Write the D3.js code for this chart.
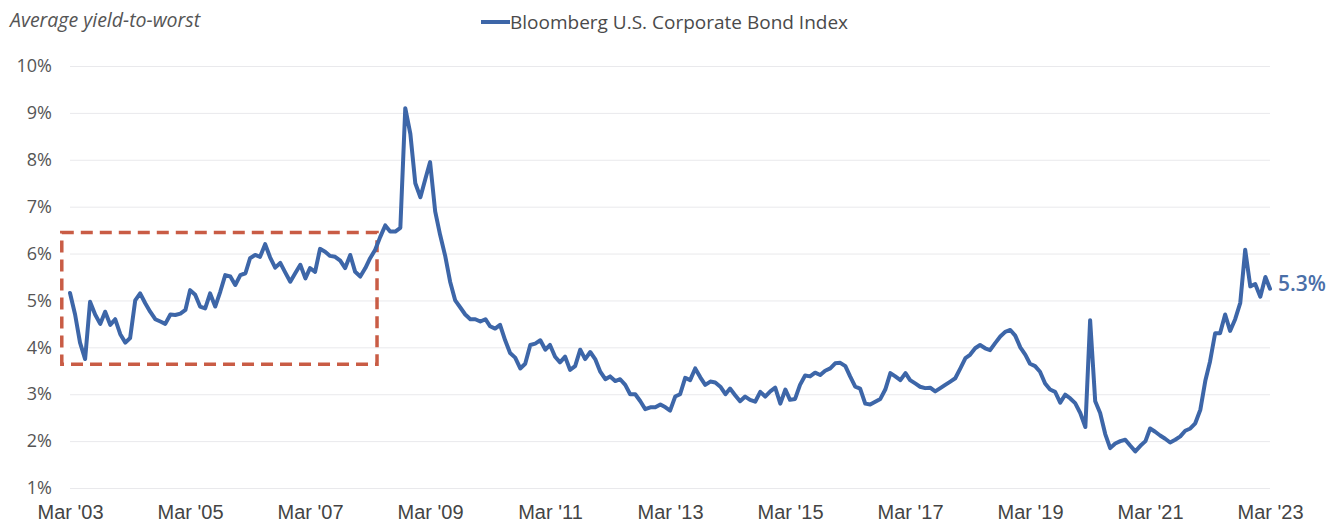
<!DOCTYPE html>
<html>
<head>
<meta charset="utf-8">
<script src="https://cdn.jsdelivr.net/npm/d3@7"></script>
<style>
  body { margin: 0; background: #fff; }
  svg { display: block; }
</style>
</head>
<body>
<svg id="chart" width="1335" height="523"></svg>
<script>
// monthly average yield-to-worst, Mar 2003 -> Mar 2023
const startMonth = "2003-03";
const yieldValues = [
  5.16, 4.7, 4.1, 3.75, 4.97, 4.7, 4.5, 4.76, 4.48, 4.6, 4.28, 4.1,
  4.2, 5.0, 5.15, 4.94, 4.76, 4.6, 4.55, 4.5, 4.7, 4.69, 4.72, 4.8,
  5.22, 5.12, 4.87, 4.83, 5.15, 4.87, 5.19, 5.54, 5.51, 5.33, 5.54, 5.58,
  5.9, 5.97, 5.93, 6.2, 5.92, 5.7, 5.8, 5.6, 5.4, 5.58, 5.76, 5.47,
  5.69, 5.61, 6.1, 6.04, 5.95, 5.93, 5.85, 5.69, 5.97, 5.61, 5.51, 5.69,
  5.9, 6.08, 6.35, 6.6, 6.47, 6.47, 6.55, 9.1, 8.55, 7.5, 7.2, 7.6,
  7.95, 6.9, 6.4, 5.95, 5.4, 5.0, 4.85, 4.7, 4.6, 4.6, 4.55, 4.6,
  4.45, 4.4, 4.48, 4.15, 3.88, 3.78, 3.55, 3.65, 4.05, 4.08, 4.15, 3.95,
  4.05, 3.8, 3.68, 3.8, 3.52, 3.6, 3.95, 3.75, 3.9, 3.75, 3.48, 3.32,
  3.38, 3.28, 3.32, 3.2, 3.0, 3.0, 2.85, 2.68, 2.72, 2.72, 2.78, 2.72,
  2.65, 2.95, 3.0, 3.35, 3.3, 3.55, 3.36, 3.2, 3.27, 3.25, 3.16, 3.0,
  3.12, 2.98, 2.85, 2.95, 2.88, 2.84, 3.05, 2.95, 3.06, 3.14, 2.8, 3.1,
  2.88, 2.9, 3.2, 3.4, 3.38, 3.46, 3.41, 3.5, 3.55, 3.66, 3.67, 3.6,
  3.38, 3.16, 3.12, 2.8, 2.78, 2.84, 2.9, 3.1, 3.45, 3.38, 3.3, 3.45,
  3.3, 3.23, 3.16, 3.13, 3.14, 3.06, 3.13, 3.2, 3.27, 3.34, 3.55, 3.77,
  3.84, 3.98, 4.05, 3.98, 3.94, 4.09, 4.23, 4.33, 4.37, 4.25, 4.0, 3.84,
  3.65, 3.6, 3.48, 3.23, 3.1, 3.05, 2.82, 2.99, 2.91, 2.81, 2.6, 2.3,
  4.58, 2.85, 2.6, 2.15, 1.85, 1.95, 2.0, 2.03, 1.9, 1.78, 1.9, 2.0,
  2.27, 2.2, 2.12, 2.05, 1.97, 2.03, 2.1, 2.22, 2.27, 2.38, 2.67, 3.3,
  3.7, 4.3, 4.3, 4.7, 4.35, 4.6, 4.95, 6.08, 5.3, 5.35, 5.08, 5.5,
  5.25
];

const yTicks = [1, 2, 3, 4, 5, 6, 7, 8, 9, 10];
const xTicks = ["2003-03", "2005-03", "2007-03", "2009-03", "2011-03", "2013-03",
  "2015-03", "2017-03", "2019-03", "2021-03", "2023-03"];
const xDomain = ["2003-03", "2023-03"];

// dashed box round the 2003-2008 stretch
const boxDates = ["2003-01-10", "2008-04-12"];
const boxYields = [3.64, 6.45];

const seriesName = "Bloomberg U.S. Corporate Bond Index";
const axisTitle = "Average yield-to-worst";
const endLabel = "5.3%";

const parseMonth = d3.timeParse("%Y-%m");
const parseDay = d3.timeParse("%Y-%m-%d");
const start = parseMonth(startMonth);
const data = yieldValues.map((v, i) => ({ date: d3.timeMonth.offset(start, i), value: v }));

const svg = d3.select("#chart");
const blue = "#3d66a8";

const x = d3.scaleTime()
  .domain(xDomain.map(parseMonth))
  .range([70, 1270]);

const y = d3.scaleLinear()
  .domain([1, 10])
  .range([488, 66]);

// gridlines + y labels
const yAxis = d3.axisLeft(y)
  .tickValues(yTicks)
  .tickFormat(d => d + "%")
  .tickSizeInner(-1200)
  .tickSizeOuter(0)
  .tickPadding(18);

const gy = svg.append("g")
  .attr("transform", "translate(70,0)")
  .call(yAxis);
gy.select(".domain").remove();
gy.selectAll(".tick line").attr("stroke", "#e9e9ec").attr("stroke-width", 1);
gy.selectAll(".tick text")
  .attr("fill", "#555")
  .style("font", "18px 'Open Sans', sans-serif");

// x labels
const xAxis = d3.axisBottom(x)
  .tickValues(xTicks.map(parseMonth))
  .tickFormat(d3.timeFormat("%b '%y"))
  .tickSize(0)
  .tickPadding(0);

const gx = svg.append("g")
  .attr("transform", "translate(0,505)")
  .call(xAxis);
gx.select(".domain").remove();
gx.selectAll(".tick text")
  .attr("fill", "#444")
  .attr("dy", "0.71em")
  .style("font", "20px 'Liberation Sans Narrow', 'Liberation Sans', sans-serif");

// highlight box
const bx = boxDates.map(parseDay);
svg.append("rect")
  .attr("x", x(bx[0]))
  .attr("y", y(boxYields[1]))
  .attr("width", x(bx[1]) - x(bx[0]))
  .attr("height", y(boxYields[0]) - y(boxYields[1]))
  .attr("fill", "none")
  .attr("stroke", "#c95c45")
  .attr("stroke-width", 3.5)
  .attr("stroke-dasharray", "12,7");

// the series
const line = d3.line()
  .x(d => x(d.date))
  .y(d => y(d.value));

svg.append("path")
  .datum(data)
  .attr("d", line)
  .attr("fill", "none")
  .attr("stroke", blue)
  .attr("stroke-width", 4)
  .attr("stroke-linejoin", "round")
  .attr("stroke-linecap", "round");

// end label
const last = data[data.length - 1];
svg.append("text")
  .attr("x", x(last.date) + 8)
  .attr("y", y(5.35))
  .attr("dy", "0.35em")
  .attr("fill", "#4a6fa8")
  .style("font", "600 21px 'Open Sans', sans-serif")
  .text(endLabel);

// title
svg.append("text")
  .attr("x", 10)
  .attr("y", 27)
  .attr("fill", "#555")
  .style("font", "italic 19.5px 'Open Sans', sans-serif")
  .text(axisTitle);

// legend
const legend = svg.append("g").attr("transform", "translate(481,22)");
legend.append("line")
  .attr("x1", 0).attr("x2", 29)
  .attr("stroke", blue)
  .attr("stroke-width", 4);
legend.append("text")
  .attr("x", 29)
  .attr("y", 7)
  .attr("fill", "#4a4a4a")
  .style("font", "19px 'Open Sans', sans-serif")
  .text(seriesName);
</script>
</body>
</html>
